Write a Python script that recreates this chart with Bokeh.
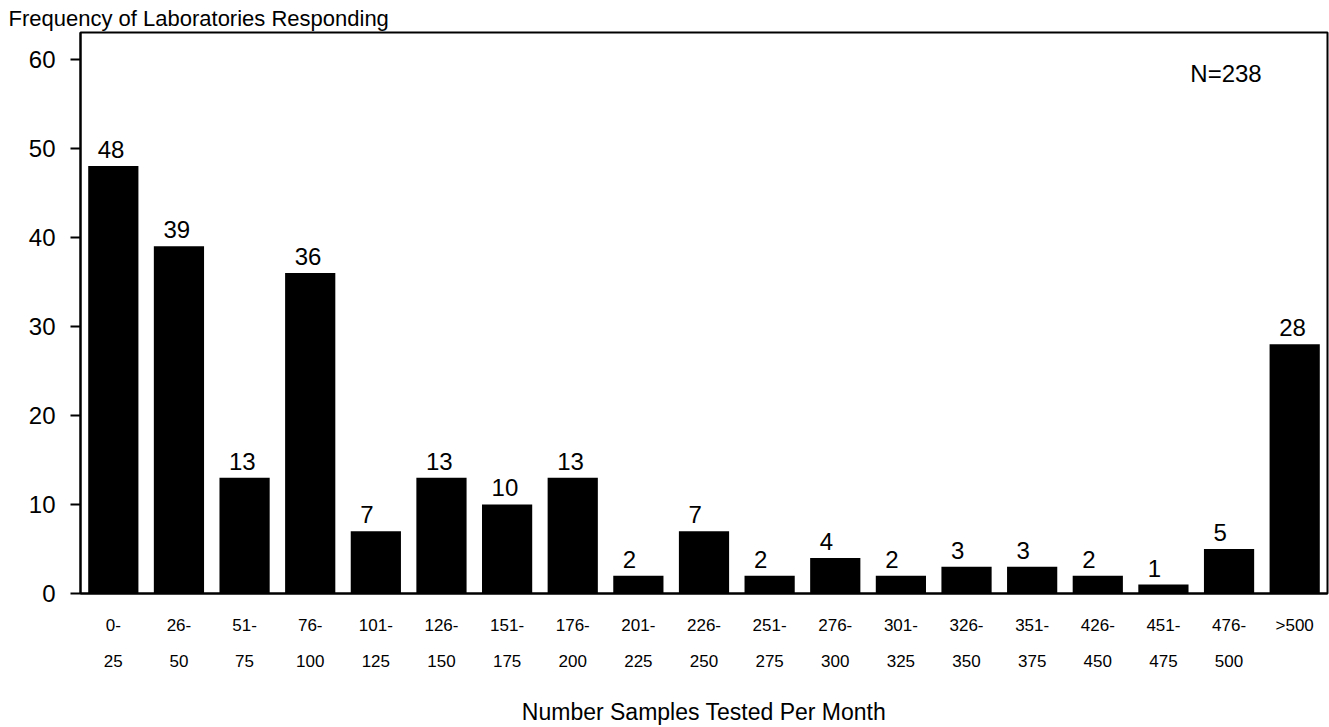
from bokeh.plotting import figure
from bokeh.models import Range1d, FixedTicker, LinearAxis, CustomJSTickFormatter, Label, LabelSet, ColumnDataSource
from bokeh.core.properties import value
from bokeh.embed import file_html
from bokeh.resources import INLINE

# ---- data ----
range_low = ["0-", "26-", "51-", "76-", "101-", "126-", "151-", "176-", "201-", "226-",
             "251-", "276-", "301-", "326-", "351-", "426-", "451-", "476-", ">500"]
range_high = ["25", "50", "75", "100", "125", "150", "175", "200", "225", "250",
              "275", "300", "325", "350", "375", "450", "475", "500", ""]
counts = [48, 39, 13, 36, 7, 13, 10, 13, 2, 7, 2, 4, 2, 3, 3, 2, 1, 5, 28]
y_ticks = [0, 10, 20, 30, 40, 50, 60]
n_total = 238

FONT = "Liberation Sans"
idx = list(range(len(counts)))

src = ColumnDataSource(dict(
    x=idx,
    top=counts,
    lx=[i - 0.237 for i in idx],
    txt=[str(c) for c in counts],
))

p = figure(width=1329, height=727, output_backend="svg", toolbar_location=None,
           x_range=Range1d(-0.5, len(counts) - 0.5), y_range=Range1d(0, 63),
           min_border_left=80, min_border_right=2, min_border_top=32, min_border_bottom=131)

p.background_fill_color = "white"
p.border_fill_color = "white"
p.outline_line_color = "black"
p.outline_line_width = 2
p.xgrid.grid_line_color = None
p.ygrid.grid_line_color = None

p.title.text = "Frequency of Laboratories Responding"
p.title.text_font = FONT
p.title.text_font_size = "22px"
p.title.text_font_style = "normal"
p.title.text_color = "black"
p.title.align = "left"
p.title.offset = -72
p.title.standoff = 3

p.vbar(x="x", top="top", width=0.765, source=src, fill_color="black", line_color=None)
p.add_layout(LabelSet(x="lx", y="top", text="txt", source=src, text_font=value(FONT),
                      text_font_size=value("24px"), text_align="left", text_baseline="alphabetic",
                      y_offset=8, text_color="black"))

# y axis
ya = p.yaxis[0]
ya.ticker = FixedTicker(ticks=y_ticks)
ya.major_tick_in = 0
ya.major_tick_out = 10
ya.major_tick_line_width = 2
ya.minor_tick_line_color = None
ya.axis_line_width = 2
ya.major_label_text_font = FONT
ya.major_label_text_font_size = "24px"
ya.major_label_text_color = "black"
ya.major_label_standoff = 15

# x axes (two rows of labels)
xa = p.xaxis[0]
xa.ticker = FixedTicker(ticks=idx)
xa.formatter = CustomJSTickFormatter(args=dict(labels=range_low), code="return labels[index] || '';")
xa.axis_line_width = 2
xa.major_tick_line_color = None
xa.minor_tick_line_color = None
xa.major_label_text_font = FONT
xa.major_label_text_font_size = "17px"
xa.major_label_text_color = "black"
xa.major_label_standoff = 16

xb = LinearAxis(ticker=FixedTicker(ticks=idx),
                formatter=CustomJSTickFormatter(args=dict(labels=range_high), code="return labels[index] || '';"))
xb.axis_line_color = None
xb.major_tick_line_color = None
xb.minor_tick_line_color = None
xb.major_label_text_font = FONT
xb.major_label_text_font_size = "17px"
xb.major_label_text_color = "black"
xb.major_label_standoff = 11
xb.axis_label = "Number Samples Tested Per Month"
xb.axis_label_text_font = FONT
xb.axis_label_text_font_size = "23px"
xb.axis_label_text_font_style = "normal"
xb.axis_label_text_color = "black"
xb.axis_label_standoff = 29
p.add_layout(xb, "below")

p.add_layout(Label(x=16.41, y=58.43, text="N=" + str(n_total), text_align="left",
                   text_baseline="alphabetic", text_font=FONT, text_font_size="24px",
                   text_color="black"))

open("out.html", "w").write(file_html(p, INLINE))
